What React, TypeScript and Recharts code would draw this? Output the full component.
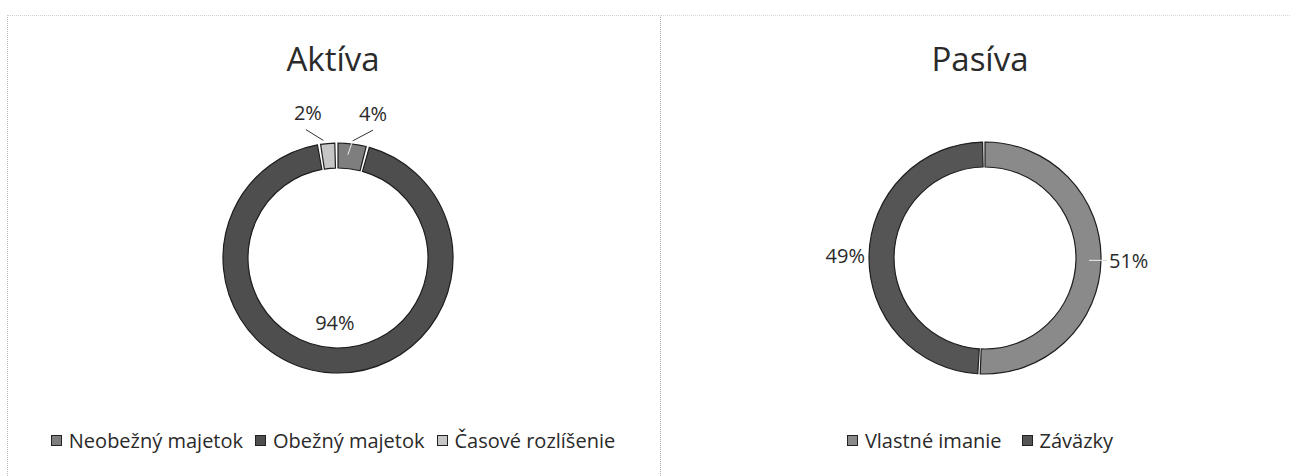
import React from 'react';
import { PieChart, Pie, Cell, Legend } from 'recharts';

const aktivaNames = ['Neobežný majetok', 'Obežný majetok', 'Časové rozlíšenie'];
const aktivaValues = [4, 94, 2];
const aktivaColors = ['#7e7e7e', '#4e4e4e', '#c6c6c6'];

const pasivaNames = ['Vlastné imanie', 'Záväzky'];
const pasivaValues = [51, 49];
const pasivaColors = ['#8a8a8a', '#555555'];

const FONT = '"Open Sans", "Noto Sans", sans-serif';
const TEXT = '#2a2a2a';
const RAD = Math.PI / 180;

const aktivaData = aktivaNames.map((name, i) => ({ name, value: aktivaValues[i] }));
const pasivaData = pasivaNames.map((name, i) => ({ name, value: pasivaValues[i] }));

function AktivaLabel(props: any) {
  const { cx, cy, midAngle, percent } = props;
  const cos = Math.cos(-midAngle * RAD);
  const sin = Math.sin(-midAngle * RAD);
  const txt = `${Math.round(percent * 100)}%`;
  if (percent > 0.5) {
    const r = 65;
    return (
      <text x={cx + r * cos} y={cy + r * sin} textAnchor="middle" dominantBaseline="central"
        fontSize={20} fill={TEXT} fontFamily={FONT}>{txt}</text>
    );
  }
  const sign = cos >= 0 ? 1 : -1;
  const lx = cx + 146 * cos + sign * 17;
  const ly = cy + 146 * sin;
  const sy = ly + 17;
  return (
    <g>
      {sign > 0 ? (
        <g>
          <line x1={lx} y1={sy} x2={cx + 118 * cos} y2={cy + 118 * sin} stroke="#333" strokeWidth={1} />
          <line x1={cx + 118 * cos} y1={cy + 118 * sin} x2={cx + 104 * cos - 3} y2={cy + 104 * sin} stroke="#eeeeee" strokeWidth={1} />
        </g>
      ) : (
        <line x1={lx - 2} y1={sy} x2={cx + 118 * cos - 4} y2={cy + 118 * sin} stroke="#333" strokeWidth={1} />
      )}
      <text x={lx} y={ly} textAnchor="middle" dominantBaseline="central"
        fontSize={20} fill={TEXT} fontFamily={FONT}>{txt}</text>
    </g>
  );
}

function PasivaLabel(props: any) {
  const { cx, cy, midAngle, outerRadius, percent } = props;
  const cos = Math.cos(-midAngle * RAD);
  const sin = Math.sin(-midAngle * RAD);
  const txt = `${Math.round(percent * 100)}%`;
  const right = cos >= 0;
  const y = cy + outerRadius * sin;
  const x = right ? cx + outerRadius + 8 : cx - outerRadius - 4;
  return (
    <g>
      {right && <line x1={cx + 104 * cos} y1={y} x2={x - 2} y2={y} stroke="#dddddd" strokeWidth={1.2} />}
      <text x={x} y={y} textAnchor={right ? 'start' : 'end'} dominantBaseline="central"
        fontSize={20} fill={TEXT} fontFamily={FONT}>{txt}</text>
    </g>
  );
}

function makeLegend(gap: number) {
  return function LegendContent(props: any) {
    const { payload } = props;
    return (
      <div style={{ display: 'flex', justifyContent: 'center', alignItems: 'center', gap, fontFamily: FONT, fontSize: 20, color: TEXT }}>
        {(payload || []).map((p: any) => (
          <div key={p.value} style={{ display: 'flex', alignItems: 'center' }}>
            <span style={{ display: 'inline-block', width: 9, height: 9, background: p.color, border: '1px solid #222', marginRight: 7 }} />
            <span>{p.value}</span>
          </div>
        ))}
      </div>
    );
  };
}

export default function App() {
  return (
    <div style={{ position: 'absolute', left: 0, top: 0, width: 1291, height: 476, background: '#fff', overflow: 'hidden' }}>
      <div style={{ position: 'absolute', left: 7, top: 15, width: 652, height: 470, borderLeft: '1px dotted #b8b8b8', borderTop: '1px dotted #d0d0d0', borderRight: '1px dotted #a8a8a8' }} />
      <div style={{ position: 'absolute', left: 660, top: 15, width: 640, height: 0, borderTop: '1px dotted #d8d8d8' }} />

      <div style={{ position: 'absolute', left: 7, top: 37, width: 652, textAlign: 'center', fontFamily: FONT, fontSize: 33, lineHeight: '44px', color: TEXT }}>Aktíva</div>
      <div style={{ position: 'absolute', left: 659, top: 37, width: 642, textAlign: 'center', fontFamily: FONT, fontSize: 33, lineHeight: '44px', color: TEXT }}>Pasíva</div>

      <div style={{ position: 'absolute', left: 7, top: 0 }}>
        <PieChart width={652} height={476}>
          <Pie data={aktivaData} dataKey="value" nameKey="name" cx={326} cy={253}
            innerRadius={90} outerRadius={115} startAngle={90} endAngle={-270}
            paddingAngle={1.6} stroke="#1e1e1e" strokeWidth={1.2}
            label={AktivaLabel} labelLine={false} isAnimationActive={false}>
            {aktivaData.map((d, i) => <Cell key={d.name} fill={aktivaColors[i]} />)}
          </Pie>
          <Legend content={makeLegend(12)} wrapperStyle={{ top: 427, left: 0, width: 652 }} />
        </PieChart>
      </div>

      <div style={{ position: 'absolute', left: 659, top: 0 }}>
        <PieChart width={642} height={476}>
          <Pie data={pasivaData} dataKey="value" nameKey="name" cx={321} cy={253}
            innerRadius={91} outerRadius={116} startAngle={90} endAngle={-270}
            paddingAngle={1.2} stroke="#1e1e1e" strokeWidth={1.2}
            label={PasivaLabel} labelLine={false} isAnimationActive={false}>
            {pasivaData.map((d, i) => <Cell key={d.name} fill={pasivaColors[i]} />)}
          </Pie>
          <Legend content={makeLegend(20)} wrapperStyle={{ top: 427, left: 0, width: 642 }} />
        </PieChart>
      </div>
    </div>
  );
}
